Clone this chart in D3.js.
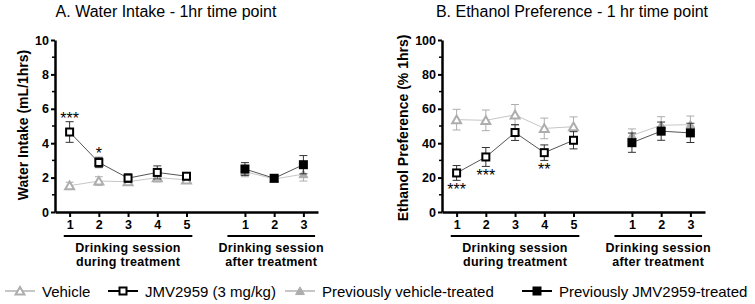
<!DOCTYPE html>
<html>
<head>
<meta charset="utf-8">
<script src="https://cdn.jsdelivr.net/npm/d3@7"></script>
<style>
  body { margin: 0; background: #fff; }
  svg text { font-family: "Liberation Sans", Arial, sans-serif; }
  .axis path, .axis line { stroke: #000; }
  .axis text { font-weight: bold; fill: #000; }
</style>
</head>
<body>
<svg id="chart" width="755" height="304"></svg>
<script>
// x positions: sessions during treatment, then sessions after treatment (one empty slot between)
const duringSlots = [0, 1, 2, 3, 4];
const afterSlots = [6, 7, 8];
const duringLabels = ["1", "2", "3", "4", "5"];
const afterLabels = ["1", "2", "3"];

// A. Water intake (mL/1hrs), mean and SEM
const waterVehicle = [1.53, 1.8, 1.76, 2.0, 1.87];
const waterVehicleErr = [0.2, 0.25, 0.2, 0.25, 0.2];
const waterJmv = [4.65, 2.88, 1.97, 2.3, 2.08];
const waterJmvErr = [0.6, 0.3, 0.25, 0.38, 0.2];
const waterPrevVehicle = [2.35, 1.92, 2.2];
const waterPrevVehicleErr = [0.3, 0.15, 0.4];
const waterPrevJmv = [2.5, 1.96, 2.75];
const waterPrevJmvErr = [0.37, 0.15, 0.53];
const waterStars = ["***", "*", "", "", ""];

// B. Ethanol preference (% 1hrs)
const prefVehicle = [53.7, 53.3, 56.5, 48.6, 49.6];
const prefVehicleErr = [6.0, 6.0, 6.0, 6.0, 5.7];
const prefJmv = [22.7, 32.0, 46.2, 34.5, 41.7];
const prefJmvErr = [4.3, 5.5, 4.6, 4.5, 5.0];
const prefPrevVehicle = [44.5, 50.4, 50.8];
const prefPrevVehicleErr = [3.8, 5.0, 5.0];
const prefPrevJmv = [40.3, 47.0, 46.0];
const prefPrevJmvErr = [5.6, 5.3, 5.6];
const prefStars = ["***", "***", "", "**", ""];

const yTicksA = [0, 2, 4, 6, 8, 10];
const yMinorA = [1, 3, 5, 7, 9];
const yTicksB = [0, 20, 40, 60, 80, 100];
const yMinorB = [10, 30, 50, 70, 90];

const legendLabels = ["Vehicle", "JMV2959 (3 mg/kg)", "Previously vehicle-treated", "Previously JMV2959-treated"];

const grayMark = "#adadad";
const grayLine = "#c6c6c6";
const darkLine = "#555";

const svg = d3.select("#chart");

function triangle(g, x, y, filled) {
  g.append("path")
    .attr("d", d3.symbol().type(d3.symbolTriangle).size(34)())
    .attr("transform", `translate(${x},${y + 1})`)
    .attr("fill", filled ? grayMark : "#fff")
    .attr("stroke", grayMark)
    .attr("stroke-width", filled ? 1 : 2);
}

function square(g, x, y, filled) {
  g.append("rect")
    .attr("x", x - 3.5).attr("y", y - 3.5)
    .attr("width", 7).attr("height", 7)
    .attr("fill", filled ? "#000" : "#fff")
    .attr("stroke", "#000")
    .attr("stroke-width", 2);
}

function drawSeries(g, x, y, slots, vals, errs, lineColor, errColor, marker, filled) {
  const pts = slots.map((s, i) => [x(s), y(vals[i])]);
  g.append("path")
    .attr("d", d3.line()(pts))
    .attr("fill", "none")
    .attr("stroke", lineColor)
    .attr("stroke-width", 1);
  slots.forEach((s, i) => {
    const cx = x(s);
    const top = y(vals[i] + errs[i]);
    const bot = y(vals[i] - errs[i]);
    g.append("line").attr("x1", cx).attr("x2", cx).attr("y1", top).attr("y2", bot)
      .attr("stroke", errColor).attr("stroke-width", 1);
    [top, bot].forEach(v => g.append("line")
      .attr("x1", cx - 4).attr("x2", cx + 4).attr("y1", v).attr("y2", v)
      .attr("stroke", errColor).attr("stroke-width", 1));
  });
  slots.forEach((s, i) => marker(g, x(s), y(vals[i]), filled));
}

function panel(opt) {
  const g = svg.append("g");
  const x = d3.scaleLinear().domain([-0.5, 8.5]).range([opt.left, opt.left + 263]);
  const y = d3.scaleLinear().domain([0, opt.max]).range([212, 40]);

  // axes
  const xAxis = d3.axisBottom(x)
    .tickValues(duringSlots.concat(afterSlots))
    .tickFormat(d => d < 5 ? duringLabels[d] : afterLabels[d - 6])
    .tickSize(5).tickSizeOuter(0).tickPadding(3);
  g.append("g").attr("class", "axis").attr("transform", "translate(0,212)").call(xAxis)
    .call(a => a.select(".domain").attr("stroke-width", 2.5))
    .call(a => a.selectAll(".tick line").attr("stroke-width", 2))
    .call(a => a.selectAll("text").attr("font-size", 12.5));

  const yAxis = d3.axisLeft(y).tickValues(opt.ticks).tickSize(4).tickSizeOuter(0).tickPadding(2);
  g.append("g").attr("class", "axis").attr("transform", `translate(${opt.left},0)`).call(yAxis)
    .call(a => a.select(".domain").attr("stroke-width", 2.5))
    .call(a => a.selectAll(".tick line").attr("stroke-width", 2))
    .call(a => a.selectAll("text").attr("font-size", 12.5));
  g.append("g").attr("transform", `translate(${opt.left},0)`)
    .selectAll("line").data(opt.minor).join("line")
    .attr("x1", -3).attr("x2", 0).attr("y1", d => y(d)).attr("y2", d => y(d))
    .attr("stroke", "#000").attr("stroke-width", 1.5);

  // group underlines and labels
  const groups = [
    { a: x(-0.2), b: x(4.2), lines: ["Drinking session", "during treatment"] },
    { a: x(5.4), b: x(8.4), lines: ["Drinking session", "after treatment"] }
  ];
  groups.forEach(gr => {
    g.append("line").attr("x1", gr.a).attr("x2", gr.b).attr("y1", 236).attr("y2", 236)
      .attr("stroke", "#000").attr("stroke-width", 2);
    gr.lines.forEach((t, i) => g.append("text")
      .attr("x", (gr.a + gr.b) / 2).attr("y", 252 + i * 13.5)
      .attr("text-anchor", "middle").attr("font-weight", "bold").attr("font-size", 12.5)
      .attr("letter-spacing", 0.3)
      .text(t));
  });

  // series
  drawSeries(g, x, y, duringSlots, opt.veh, opt.vehErr, grayLine, grayMark, triangle, false);
  drawSeries(g, x, y, duringSlots, opt.jmv, opt.jmvErr, darkLine, "#333", square, false);
  drawSeries(g, x, y, afterSlots, opt.pveh, opt.pvehErr, grayLine, grayMark, triangle, true);
  drawSeries(g, x, y, afterSlots, opt.pjmv, opt.pjmvErr, darkLine, "#333", square, true);

  // significance stars
  opt.stars.forEach((s, i) => {
    if (!s) return;
    const yy = opt.starsAbove
      ? y(opt.jmv[i] + opt.jmvErr[i]) + 2
      : y(opt.jmv[i] - opt.jmvErr[i]) + 15;
    g.append("text").attr("x", x(duringSlots[i])).attr("y", yy)
      .attr("text-anchor", "middle").attr("font-size", 16).attr("fill", "#000").text(s);
  });

  // title and y label
  g.append("text").attr("x", opt.titleX).attr("y", 17).attr("text-anchor", "middle")
    .attr("font-size", 16).text(opt.title);
  g.append("text")
    .attr("transform", `translate(${opt.ylabX},${opt.ylabY}) rotate(-90)`)
    .attr("text-anchor", "middle").attr("font-weight", "bold").attr("font-size", 14)
    .text(opt.ylabel);
}

panel({
  left: 55, max: 10, ticks: yTicksA, minor: yMinorA,
  veh: waterVehicle, vehErr: waterVehicleErr, jmv: waterJmv, jmvErr: waterJmvErr,
  pveh: waterPrevVehicle, pvehErr: waterPrevVehicleErr, pjmv: waterPrevJmv, pjmvErr: waterPrevJmvErr,
  stars: waterStars, starsAbove: true,
  title: "A. Water Intake - 1hr time point", titleX: 166,
  ylabel: "Water Intake (mL/1hrs)", ylabX: 28, ylabY: 125
});

panel({
  left: 442, max: 100, ticks: yTicksB, minor: yMinorB,
  veh: prefVehicle, vehErr: prefVehicleErr, jmv: prefJmv, jmvErr: prefJmvErr,
  pveh: prefPrevVehicle, pvehErr: prefPrevVehicleErr, pjmv: prefPrevJmv, pjmvErr: prefPrevJmvErr,
  stars: prefStars, starsAbove: false,
  title: "B. Ethanol Preference - 1 hr time point", titleX: 572,
  ylabel: "Ethanol Preference (% 1hrs)", ylabX: 408, ylabY: 128
});

// legend
const legendX = [5, 108, 285, 522];
const legendMarks = [
  [triangle, false, grayLine], [square, false, "#000"],
  [triangle, true, grayLine], [square, true, "#000"]
];
const lg = svg.append("g").attr("transform", "translate(0,291)");
legendLabels.forEach((t, i) => {
  const x0 = legendX[i];
  lg.append("line").attr("x1", x0).attr("x2", x0 + 30).attr("y1", 0).attr("y2", 0)
    .attr("stroke", legendMarks[i][2]).attr("stroke-width", 2);
  legendMarks[i][0](lg, x0 + 15, 0, legendMarks[i][1]);
  lg.append("text").attr("x", x0 + 37).attr("y", 5.5).attr("font-size", 15).text(t);
});
</script>
</body>
</html>
